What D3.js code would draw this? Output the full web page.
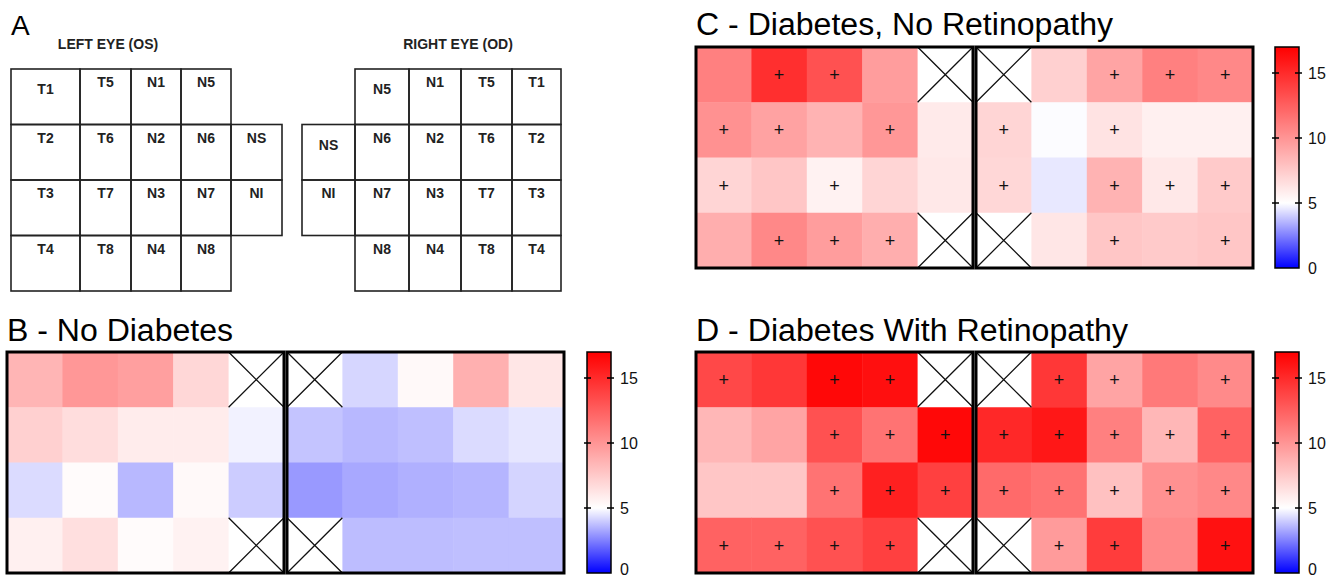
<!DOCTYPE html>
<html><head><meta charset="utf-8">
<script src="https://cdn.jsdelivr.net/npm/d3@7"></script>
<style>body{margin:0;background:#fff} svg{display:block}</style>
</head><body><svg id="c" width="1334" height="578"></svg>
<script>
// ---------- DATA ----------
const leftEyeLabels = [
  ["T1","T5","N1","N5",null],
  ["T2","T6","N2","N6","NS"],
  ["T3","T7","N3","N7","NI"],
  ["T4","T8","N4","N8",null]
];
const rightEyeLabels = [
  [null,"N5","N1","T5","T1"],
  ["NS","N6","N2","T6","T2"],
  ["NI","N7","N3","T7","T3"],
  [null,"N8","N4","T8","T4"]
];
const eyeTitles = ["LEFT EYE (OS)", "RIGHT EYE (OD)"];
const panelTitles = ["B - No Diabetes", "C - Diabetes, No Retinopathy", "D - Diabetes With Retinopathy"];
// each row: 5 left-eye cells then 5 right-eye cells; null = not applicable (crossed)
const noDiabetes = [
  [8.5, 9.9, 9.5, 6.9, null,   null, 4.2, 5.3, 8.7, 6.2],
  [7.2, 6.6, 5.9, 5.9, 4.75,   3.85, 3.6, 3.75, 4.3, 4.5],
  [4.3, 5.2, 3.6, 5.3, 4.0,    3.0, 3.3, 3.45, 3.55, 4.15],
  [5.7, 6.5, 5.2, 5.6, null,   null, 3.7, 3.7, 3.75, 3.75]
];
const diabetesNoRetinopathy = [
  [11.0, 14.8, 13.2, 9.6, null,  null, 7.2, 9.3, 11.0, 10.6],
  [10.2, 9.4, 8.6, 9.9, 6.0,     7.0, 4.95, 6.3, 5.7, 5.7],
  [7.0, 7.7, 5.6, 7.0, 6.1,      6.9, 4.55, 8.6, 6.1, 7.5],
  [8.8, 10.6, 9.6, 8.8, null,    null, 6.2, 7.7, 7.5, 7.7]
];
const diabetesWithRetinopathy = [
  [13.6, 14.4, 16.6, 16.3, null,  null, 14.4, 9.3, 11.3, 10.5],
  [8.4, 9.3, 13.2, 11.6, 16.6,    15.1, 15.9, 11.0, 8.4, 12.4],
  [7.7, 7.7, 11.6, 15.5, 14.0,    12.0, 11.6, 7.9, 10.2, 10.6],
  [12.4, 12.4, 13.2, 14.0, null,  null, 9.7, 14.2, 10.5, 16.2]
];
// significance markers (+)
const sigNoDiabetes = [
  [0,0,0,0,0, 0,0,0,0,0],
  [0,0,0,0,0, 0,0,0,0,0],
  [0,0,0,0,0, 0,0,0,0,0],
  [0,0,0,0,0, 0,0,0,0,0]
];
const sigNoRetinopathy = [
  [0,1,1,0,0, 0,0,1,1,1],
  [1,1,0,1,0, 1,0,1,0,0],
  [1,0,1,0,0, 1,0,1,1,1],
  [0,1,1,1,0, 0,0,1,0,1]
];
const sigWithRetinopathy = [
  [1,0,1,1,0, 0,1,1,0,1],
  [0,0,1,1,1, 1,1,1,1,1],
  [0,0,1,1,1, 1,1,1,1,1],
  [1,1,1,1,0, 0,1,1,0,1]
];
const colorDomain = [0, 5, 17];
const colorRange = ["#0000ff", "#ffffff", "#ff0000"];
const colorbarTicks = [0, 5, 10, 15];

// ---------- DRAW ----------
const svg = d3.select("#c");
const FONT = "'Liberation Sans', Arial, sans-serif";
const color = d3.scaleLinear().domain(colorDomain).range(colorRange);

// Panel A
svg.append("text").attr("x", 11).attr("y", 35).attr("font-family", FONT)
  .attr("font-size", 28).text("A");

const rowY = d3.scaleLinear().domain([0, 4]).range([69, 291]);
const grids = [
  {labels: leftEyeLabels, edges: [11, 80, 131, 181, 231, 282], title: eyeTitles[0], tx: 108, lowered: ["T1"]},
  {labels: rightEyeLabels, edges: [302, 355, 409, 461, 512, 561], title: eyeTitles[1], tx: 458, lowered: ["N5", "NS"]}
];
grids.forEach(g => {
  svg.append("text").attr("x", g.tx).attr("y", 49).attr("text-anchor", "middle")
    .attr("font-family", FONT).attr("font-weight", "bold").attr("font-size", 14)
    .attr("fill", "#222").text(g.title);
  const cells = [];
  g.labels.forEach((row, r) => row.forEach((lab, c) => { if (lab) cells.push({r, c, lab}); }));
  const gg = svg.append("g");
  gg.selectAll("rect").data(cells).join("rect")
    .attr("x", d => g.edges[d.c]).attr("y", d => rowY(d.r))
    .attr("width", d => g.edges[d.c + 1] - g.edges[d.c]).attr("height", d => rowY(d.r + 1) - rowY(d.r))
    .attr("fill", "none").attr("stroke", "#222").attr("stroke-width", 1.6);
  gg.selectAll("text").data(cells).join("text")
    .attr("x", d => (g.edges[d.c] + g.edges[d.c + 1]) / 2)
    .attr("y", d => rowY(d.r) + (g.lowered.includes(d.lab) ? 20 : 13))
    .attr("dy", "0.36em").attr("text-anchor", "middle")
    .attr("font-family", FONT).attr("font-weight", "bold").attr("font-size", 14)
    .attr("fill", "#222").text(d => d.lab);
});

// Heatmap panels
const panels = [
  {title: panelTitles[0], titleLen: 226, data: noDiabetes, sig: sigNoDiabetes, x: 7, y: 352, ty: 341, cbx: 587},
  {title: panelTitles[1], titleLen: 417, data: diabetesNoRetinopathy, sig: sigNoRetinopathy, x: 696, y: 47, ty: 35, cbx: 1275},
  {title: panelTitles[2], titleLen: 432, data: diabetesWithRetinopathy, sig: sigWithRetinopathy, x: 696, y: 352, ty: 341, cbx: 1275}
];
const blockW = 277, blockGap = 3, H = 221, cbW = 24;

const defs = svg.append("defs");
const grad = defs.append("linearGradient").attr("id", "cbgrad")
  .attr("x1", 0).attr("y1", 1).attr("x2", 0).attr("y2", 0);
d3.range(0, 17.01, 0.5).forEach(v => {
  grad.append("stop").attr("offset", v / 17).attr("stop-color", color(v));
});

panels.forEach(p => {
  svg.append("text").attr("x", p.x).attr("y", p.ty).attr("font-family", FONT)
    .attr("font-size", 31).attr("textLength", p.titleLen).attr("lengthAdjust", "spacingAndGlyphs")
    .attr("fill", "#000").text(p.title);

  const y = d3.scaleBand().domain(d3.range(4)).range([p.y, p.y + H]);
  [0, 1].forEach(b => {
    const bx = p.x + b * (blockW + blockGap);
    const x = d3.scaleBand().domain(d3.range(5)).range([bx, bx + blockW]);
    const cells = [];
    p.data.forEach((row, r) => row.slice(b * 5, b * 5 + 5).forEach((v, c) =>
      cells.push({r, c, v, s: p.sig[r][b * 5 + c]})));
    const g = svg.append("g");
    g.selectAll("rect.cell").data(cells).join("rect").attr("class", "cell")
      .attr("x", d => x(d.c)).attr("y", d => y(d.r))
      .attr("width", x.bandwidth() + 0.5).attr("height", y.bandwidth() + 0.5)
      .attr("fill", d => d.v == null ? "#fff" : color(d.v));
    const na = cells.filter(d => d.v == null);
    g.selectAll("path.x").data(na).join("path").attr("class", "x")
      .attr("d", d => `M${x(d.c)},${y(d.r)}L${x(d.c) + x.bandwidth()},${y(d.r) + y.bandwidth()}M${x(d.c) + x.bandwidth()},${y(d.r)}L${x(d.c)},${y(d.r) + y.bandwidth()}`)
      .attr("stroke", "#111").attr("stroke-width", 1.3).attr("fill", "none");
    g.selectAll("text.sig").data(cells.filter(d => d.s)).join("text").attr("class", "sig")
      .attr("x", d => x(d.c) + x.bandwidth() / 2).attr("y", d => y(d.r) + y.bandwidth() / 2)
      .attr("dy", "0.36em").attr("text-anchor", "middle").attr("font-family", FONT)
      .attr("font-size", 18).attr("fill", "#111").text("+");
    g.append("rect").attr("x", bx).attr("y", p.y).attr("width", blockW).attr("height", H)
      .attr("fill", "none").attr("stroke", "#000").attr("stroke-width", 3);
  });

  // colorbar
  const cs = d3.scaleLinear().domain([0, 17]).range([p.y + H, p.y]);
  svg.append("rect").attr("x", p.cbx).attr("y", p.y).attr("width", cbW).attr("height", H)
    .attr("fill", "url(#cbgrad)").attr("stroke", "#000").attr("stroke-width", 1.5);
  const tg = svg.append("g");
  tg.selectAll("path").data(colorbarTicks.filter(t => t > 0)).join("path")
    .attr("d", t => `M${p.cbx - 3},${cs(t)}h7M${p.cbx + cbW - 4},${cs(t)}h7`)
    .attr("stroke", "#000").attr("stroke-width", 1.5);
  tg.selectAll("text").data(colorbarTicks).join("text")
    .attr("x", p.cbx + cbW + 9).attr("y", t => t === 0 ? Math.min(cs(t), 569) : cs(t)).attr("dy", "0.36em")
    .attr("font-family", "'Liberation Sans Narrow', 'Liberation Sans', Arial, sans-serif")
    .attr("font-size", 16).attr("fill", "#111").text(t => t);
});
</script></body></html>
